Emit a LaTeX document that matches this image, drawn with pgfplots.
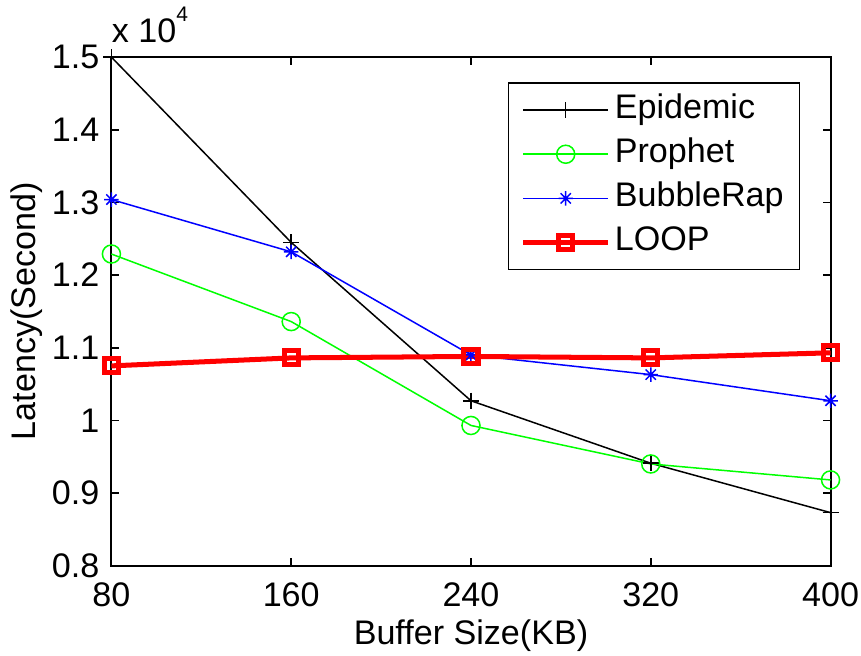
\documentclass[border=0pt]{standalone}
\usepackage{pgfplots}
\pgfplotsset{compat=1.18}
\usepackage{fontspec}
\setmainfont{Liberation Sans}
\newcommand{\bigf}{\fontsize{17}{20}\selectfont}
\pgfdeclareplotmark{mstar}{%
 \pgfpathmoveto{\pgfqpoint{0pt}{\pgfplotmarksize}}\pgfpathlineto{\pgfqpoint{0pt}{-\pgfplotmarksize}}%
 \pgfpathmoveto{\pgfqpoint{\pgfplotmarksize}{0pt}}\pgfpathlineto{\pgfqpoint{-\pgfplotmarksize}{0pt}}%
 \pgfpathmoveto{\pgfqpoint{0.7071\pgfplotmarksize}{0.7071\pgfplotmarksize}}\pgfpathlineto{\pgfqpoint{-0.7071\pgfplotmarksize}{-0.7071\pgfplotmarksize}}%
 \pgfpathmoveto{\pgfqpoint{-0.7071\pgfplotmarksize}{0.7071\pgfplotmarksize}}\pgfpathlineto{\pgfqpoint{0.7071\pgfplotmarksize}{-0.7071\pgfplotmarksize}}%
 \pgfusepathqstroke}
\begin{document}
\begin{tikzpicture}
\begin{axis}[
  width=358.5pt, height=253.5pt, scale only axis,
  xmin=80, xmax=400, ymin=0.8, ymax=1.5,
  xtick={80,160,240,320,400},
  ytick={0.8,0.9,1,1.1,1.2,1.3,1.4,1.5},
  yticklabel style={/pgf/number format/fixed, /pgf/number format/precision=1, xshift=-2.5pt},
  xticklabel style={yshift=-5pt, inner xsep=1pt},
  /pgf/number format/assume math mode=true,
  tick align=inside, tick pos=both,
  major tick length=4pt,
  axis line style={line width=1pt},
  every tick/.style={black, line width=0.8pt},
  tick label style={font=\bigf},
  label style={font=\bigf},
  xlabel={Buffer Size(KB)}, ylabel={Latency(Second)},
  xlabel style={yshift=-1pt, inner ysep=2pt},
  ylabel style={inner ysep=5.5pt, yshift=-4.5pt},
  legend style={at={(1,1)}, anchor=north east, xshift=-15pt, yshift=-12.5pt,
    font=\bigf, draw=black, line width=0.8pt,
    nodes={text height=13pt, text depth=5pt, inner ysep=2pt},
    inner xsep=6pt, inner ysep=2.5pt, legend cell align=left},
  legend image code/.code={\draw[mark repeat=2,mark phase=2] plot coordinates {(0pt,0pt) (21.25pt,0pt) (42.5pt,0pt)};},
  clip=false,
]
\addplot[black, line width=0.75pt, mark=+, mark size=4pt] coordinates {
 (80,1.5) (160,1.245) (240,1.027) (320,0.941) (400,0.873)};
\addlegendentry{Epidemic}
\addplot[green, line width=0.75pt, mark=o, mark size=4.5pt] coordinates {
 (80,1.229) (160,1.136) (240,0.993) (320,0.940) (400,0.918)};
\addlegendentry{Prophet}
\addplot[blue, line width=0.75pt, mark=mstar, mark size=3.6pt] coordinates {
 (80,1.304) (160,1.232) (240,1.090) (320,1.063) (400,1.027)};
\addlegendentry{BubbleRap}
\addplot[red, line width=2.5pt, mark=square, mark size=3.5pt] coordinates {
 (80,1.075) (160,1.086) (240,1.088) (320,1.086) (400,1.093)};
\addlegendentry{LOOP}
\node[anchor=south west, font=\bigf, inner sep=0pt] at (rel axis cs:0,1) [yshift=7pt] {x 10\raisebox{10.5pt}{\fontsize{10.5}{12}\selectfont 4}};
\path (rel axis cs:0,1) ++(0pt,28.5pt);
\end{axis}
\end{tikzpicture}
\end{document}
